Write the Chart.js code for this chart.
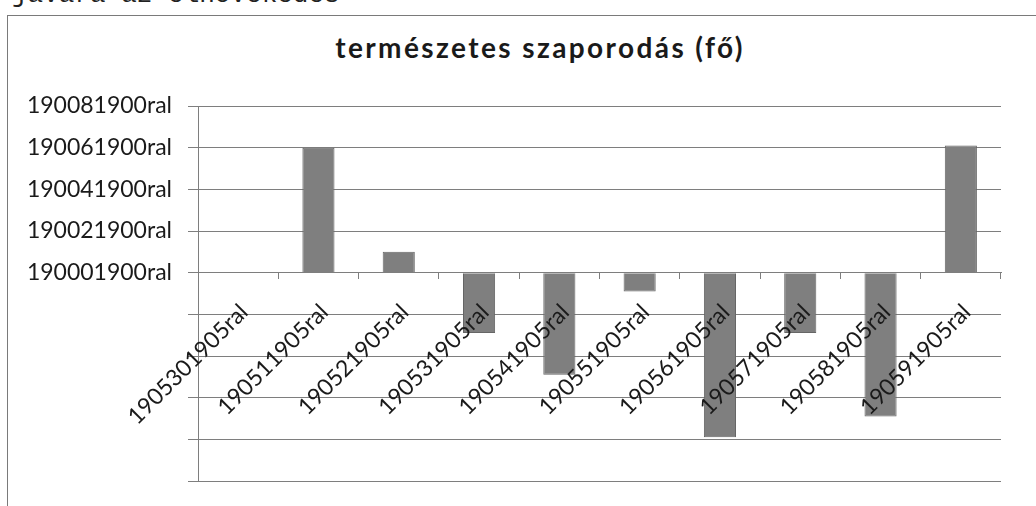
<!DOCTYPE html>
<html>
<head>
<meta charset="utf-8">
<script src="https://cdn.jsdelivr.net/npm/chart.js@4"></script>
<style>
    html, body { margin: 0; padding: 0; background: #fff; overflow: hidden; }
    #page { position: relative; width: 1036px; height: 506px; }
    #docline {
        position: absolute; left: 12px; top: -20px;
        font: 26px "Liberation Mono", monospace; color: #222; white-space: nowrap;
    }
    #frame {
        position: absolute; left: 7px; top: 15px; width: 1100px; height: 600px;
        border-left: 1px solid #7a7a7a; border-top: 1px solid #7a7a7a;
    }
    #chart-title {
        position: absolute; left: 0; top: 30px; width: 1080px; text-align: center;
        font: bold 28px Lato, "Open Sans", sans-serif; letter-spacing: 2.4px;
        line-height: 34px; color: #1a1a1a; white-space: nowrap;
    }
    #chart-wrap { position: absolute; left: 0; top: 0; width: 1036px; height: 506px; }
</style>
</head>
<body>
<div id="page">
    <div id="docline">javára az elnövekedés</div>
    <div id="frame"></div>
    <div id="chart-title"></div>
    <div id="chart-wrap"><canvas id="szaporodas-chart"></canvas></div>
</div>
<script>
// Categories (year labels as they come out of the spreadsheet)
const categories = [
    '1905301905ral', '190511905ral', '190521905ral', '190531905ral', '190541905ral',
    '190551905ral', '190561905ral', '190571905ral', '190581905ral', '190591905ral'
];

// Natural increase (persons) per year
const naturalIncrease = [0, 60, 10, -29, -49, -9, -79, -29, -69, 61];

// Value axis: only the non-negative ticks carry a label
const yTickValues = [0, 20, 40, 60, 80];
const yTickLabels = ['190001900ral', '190021900ral', '190041900ral', '190061900ral', '190081900ral'];

const chartTitle = 'természetes szaporodás (fő)';

const gridColor = '#7e7e7e';
const textColor = '#1a1a1a';
const tickFont = { family: 'Lato, "Open Sans", sans-serif', size: 23 };

function setupChart() {
    document.getElementById('chart-title').textContent = chartTitle;

    const ctx = document.getElementById('szaporodas-chart').getContext('2d');
    return new Chart(ctx, {
        type: 'bar',
        data: {
            labels: categories,
            datasets: [{
                label: chartTitle,
                data: naturalIncrease,
                backgroundColor: '#7f7f7f',
                borderColor: '#666666',
                borderWidth: 1,
                categoryPercentage: 1,
                barPercentage: 0.4
            }]
        },
        options: {
            responsive: true,
            maintainAspectRatio: false,
            animation: false,
            layout: {
                padding: { top: 106, right: 35, bottom: 25, left: 0 }
            },
            plugins: {
                legend: { display: false },
                tooltip: { enabled: false },
                title: { display: false }
            },
            scales: {
                x: {
                    // category axis crosses at zero, labels drawn over the bars
                    position: { y: 0 },
                    grid: {
                        drawOnChartArea: false,
                        drawTicks: true,
                        tickLength: 6,
                        color: gridColor
                    },
                    border: { display: true, color: gridColor, width: 1, z: 1 },
                    ticks: {
                        z: 1,
                        color: textColor,
                        font: tickFont,
                        autoSkip: false,
                        minRotation: 45,
                        maxRotation: 45,
                        labelOffset: 6,
                        padding: 20
                    }
                },
                y: {
                    min: -100,
                    max: 80,
                    grid: {
                        color: gridColor,
                        tickLength: 10,
                        lineWidth: 1
                    },
                    border: { display: true, color: gridColor, width: 1 },
                    afterFit: (scale) => {
                        // fixed axis width; the blank bottom label needs no room
                        scale.width = 198;
                        scale.paddingBottom = 0;
                    },
                    ticks: {
                        stepSize: 20,
                        color: textColor,
                        font: tickFont,
                        padding: 16,
                        callback: (value) => {
                            const i = yTickValues.indexOf(value);
                            return i >= 0 ? yTickLabels[i] : '';
                        }
                    }
                }
            }
        }
    });
}

document.addEventListener('DOMContentLoaded', setupChart);
</script>
</body>
</html>
